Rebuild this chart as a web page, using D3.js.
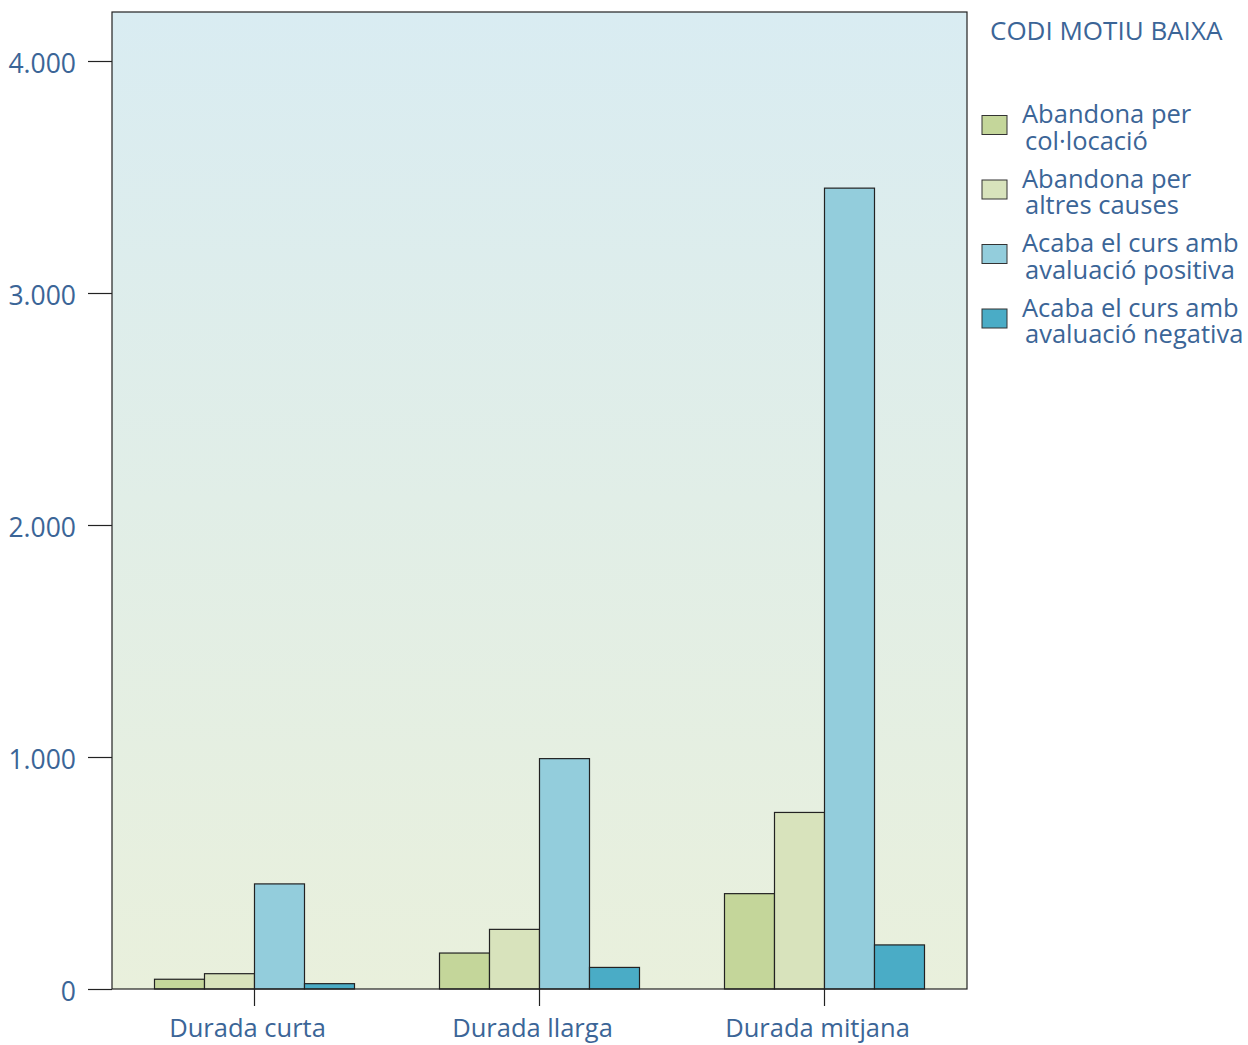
<!DOCTYPE html>
<html><head><meta charset="utf-8">
<script src="https://cdn.jsdelivr.net/npm/d3@7"></script>
<style>body{margin:0;background:#fff;} text{font-family:"Open Sans",Lato,sans-serif;}</style>
</head><body>
<svg id="chart" width="1248" height="1045"></svg>
<script>
const categories = ["Durada curta", "Durada llarga", "Durada mitjana"];
const seriesNames = [["Abandona per", "col·locació"], ["Abandona per", "altres causes"], ["Acaba el curs amb", "avaluació positiva"], ["Acaba el curs amb", "avaluació negativa"]];
const colocacio = [42, 155, 411];
const altres = [66, 257, 761];
const positiva = [453, 993, 3452];
const negativa = [23, 93, 190];
const yTicks = [0, 1000, 2000, 3000, 4000];
const yTickLabels = ["0", "1.000", "2.000", "3.000", "4.000"];
const legendTitle = "CODI MOTIU BAIXA";

const series = [colocacio, altres, positiva, negativa];
const colors = ["#c4d69a", "#d8e3bc", "#93cddc", "#4aacc6"];
const textColor = "#3b6597";
const FONT = "'Open Sans', Lato, sans-serif";
const FS = "25.5px";

const svg = d3.select("#chart");
const L = 112, R = 967, T = 12, B = 989;
const x = d3.scaleBand().domain(categories).range([L, R]);
const y = d3.scaleLinear().domain([0, 4000]).range([B, B - 928]);
const groupW = 200;
const xs = d3.scaleBand().domain(d3.range(4)).range([0, groupW]);

const defs = svg.append("defs");
const grad = defs.append("linearGradient").attr("id", "bg").attr("x1", 0).attr("y1", 0).attr("x2", 0).attr("y2", 1);
grad.append("stop").attr("offset", "0%").attr("stop-color", "#d9ecf2");
grad.append("stop").attr("offset", "100%").attr("stop-color", "#e9f0dc");

svg.append("rect").attr("x", L).attr("y", T).attr("width", R - L).attr("height", B - T).attr("fill", "url(#bg)");

// bars
categories.forEach((c, ci) => {
  series.forEach((s, si) => {
    const x0 = x(c) + x.bandwidth() / 2 - groupW / 2 + xs(si);
    svg.append("rect")
      .attr("x", x0).attr("y", y(s[ci]))
      .attr("width", xs.bandwidth()).attr("height", y(0) - y(s[ci]))
      .attr("fill", colors[si]).attr("stroke", "#222").attr("stroke-width", 1.2);
  });
});

// frame
svg.append("rect").attr("x", L).attr("y", T).attr("width", R - L).attr("height", B - T)
  .attr("fill", "none").attr("stroke", "#222").attr("stroke-width", 1.2);

// y axis
const yAxis = d3.axisLeft(y).tickValues(yTicks).tickFormat((d, i) => yTickLabels[i]).tickSize(24).tickPadding(12);
const gy = svg.append("g").attr("transform", `translate(${L},0)`).call(yAxis);
gy.select(".domain").remove();
gy.selectAll(".tick line").attr("stroke", "#222").attr("stroke-width", 1.2);
gy.selectAll(".tick text").attr("fill", textColor).style("font-size", "26.5px").style("font-family", FONT).attr("dy", "0.45em");

// x axis
const xAxis = d3.axisBottom(x).tickSize(17).tickPadding(13);
const gx = svg.append("g").attr("transform", `translate(0,${B})`).call(xAxis);
gx.select(".domain").remove();
gx.selectAll(".tick line").attr("stroke", "#222").attr("stroke-width", 1.2);
gx.selectAll(".tick text").attr("fill", textColor).style("font-size", FS).style("font-family", FONT).attr("dx", -7);

// legend
svg.append("text").attr("x", 990).attr("y", 40).attr("fill", textColor).style("font-size", "26px").style("font-family", FONT).text(legendTitle);
seriesNames.forEach((n, i) => {
  const gy0 = 115.5 + i * 64.5;
  svg.append("rect").attr("x", 982).attr("y", gy0).attr("width", 25).attr("height", 19)
    .attr("fill", colors[i]).attr("stroke", "#333").attr("stroke-width", 1);
  const t = svg.append("text").attr("fill", textColor).style("font-size", FS).style("font-family", FONT);
  t.append("tspan").attr("x", 1022).attr("y", gy0 + 7.5).text(n[0]);
  t.append("tspan").attr("x", 1025).attr("y", gy0 + 34).text(n[1]);
});
</script>
</body></html>
